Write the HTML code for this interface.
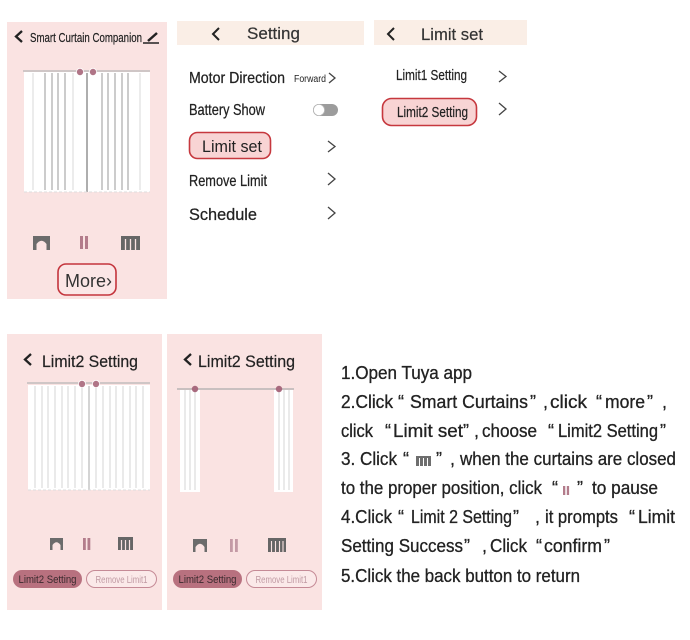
<!DOCTYPE html>
<html><head><meta charset="utf-8"><style>
html,body{margin:0;padding:0;background:#fff;}
svg{display:block;}
text{font-family:"Liberation Sans","Noto Sans CJK SC",sans-serif;}
</style></head><body>
<svg width="690" height="640" viewBox="0 0 690 640" xmlns="http://www.w3.org/2000/svg">
<rect width="690" height="640" fill="#fff"/>

<!-- ===== Top-left panel ===== -->
<rect x="7" y="22" width="160" height="277" fill="#fae3e2"/>
<polyline points="22,31 16,36.5 22,42" fill="none" stroke="#222" stroke-width="2.3"/>
<text x="30" y="42" font-size="13" textLength="112" lengthAdjust="spacingAndGlyphs" fill="#222" stroke="#222" stroke-width="0.2">Smart Curtain Companion</text>
<line x1="148" y1="41" x2="157" y2="33" stroke="#222" stroke-width="2.5"/>
<line x1="143" y1="43" x2="159" y2="43" stroke="#222" stroke-width="1.5"/>
<!-- curtain -->
<rect x="24" y="72" width="126" height="120" fill="#fff"/>
<g stroke="#9a9a9a" stroke-width="1">
<line x1="45" y1="73" x2="45" y2="190"/><line x1="52" y1="73" x2="52" y2="190"/><line x1="58" y1="73" x2="58" y2="190"/><line x1="65" y1="73" x2="65" y2="190"/>
<line x1="102" y1="73" x2="102" y2="190"/><line x1="108" y1="73" x2="108" y2="190"/><line x1="115" y1="73" x2="115" y2="190"/><line x1="122" y1="73" x2="122" y2="190"/><line x1="128" y1="73" x2="128" y2="190"/>
</g>
<g stroke="#d8d8d8" stroke-width="1">
<line x1="33" y1="73" x2="33" y2="190"/><line x1="73" y1="73" x2="73" y2="190"/><line x1="140" y1="73" x2="140" y2="190"/>
</g>
<line x1="87" y1="73" x2="87" y2="192" stroke="#777" stroke-width="1.2"/>
<line x1="24" y1="192" x2="150" y2="192" stroke="#ddd" stroke-width="1" stroke-dasharray="3,2"/>
<line x1="23" y1="71" x2="150" y2="71" stroke="#cfc6c6" stroke-width="2"/>
<circle cx="80" cy="72" r="3.6" fill="#b07587" stroke="#fff" stroke-width="0.8"/>
<circle cx="93" cy="72" r="3.6" fill="#b07587" stroke="#fff" stroke-width="0.8"/>
<!-- icons -->
<rect x="33" y="236" width="17" height="14" fill="#6b6b6b"/>
<path d="M36.5 250 V244 Q41.5 237.5 46.5 244 V250 Z" fill="#fae3e2"/>
<rect x="80" y="236" width="3" height="13" fill="#b37c8b"/>
<rect x="85" y="236" width="3" height="13" fill="#b37c8b"/>
<rect x="121" y="236" width="19" height="14" fill="#666"/>
<g stroke="#fae3e2" stroke-width="1.3"><line x1="125.5" y1="239" x2="125.5" y2="250"/><line x1="130.5" y1="239" x2="130.5" y2="250"/><line x1="135.5" y1="239" x2="135.5" y2="250"/></g>
<!-- More button -->
<rect x="58" y="264" width="58" height="31" rx="8" fill="#fbe6e6" stroke="#c4343c" stroke-width="1.6"/>
<text x="65" y="287" font-size="18" textLength="47" lengthAdjust="spacingAndGlyphs" fill="#333">More›</text>

<!-- ===== Setting panel ===== -->
<rect x="177" y="21" width="187" height="24" fill="#faeee6"/>
<polyline points="219,28 213,34 219,40" fill="none" stroke="#222" stroke-width="2"/>
<text x="247" y="39" font-size="17" textLength="53" lengthAdjust="spacingAndGlyphs" fill="#333" stroke="#333" stroke-width="0.2">Setting</text>

<g fill="#222" stroke="#222" stroke-width="0.25">
<text x="189" y="83" font-size="16" textLength="96" lengthAdjust="spacingAndGlyphs">Motor Direction</text>
<text x="189" y="115" font-size="16" textLength="76" lengthAdjust="spacingAndGlyphs">Battery Show</text>
<text x="202" y="152" font-size="17" textLength="60" lengthAdjust="spacingAndGlyphs">Limit set</text>
<text x="189" y="186" font-size="16" textLength="78" lengthAdjust="spacingAndGlyphs">Remove Limit</text>
<text x="189" y="220" font-size="17" textLength="68" lengthAdjust="spacingAndGlyphs">Schedule</text>
</g>
<text x="294" y="82" font-size="10" textLength="32" lengthAdjust="spacingAndGlyphs" fill="#222">Forward</text>
<polyline points="329,73 335,78 329,83" fill="none" stroke="#444" stroke-width="1.3"/>

<rect x="313" y="104" width="25" height="12" rx="6" fill="#9c9c9c"/>
<circle cx="319" cy="110" r="5.6" fill="#fff" stroke="#b5b5b5" stroke-width="0.8"/>

<rect x="189.5" y="132.5" width="81" height="26" rx="8" fill="#f8d4d4" stroke="#c6383e" stroke-width="1.6"/>
<text x="202" y="152" font-size="17" textLength="60" lengthAdjust="spacingAndGlyphs" fill="#222">Limit set</text>
<polyline points="328,141 335,146.5 328,152" fill="none" stroke="#444" stroke-width="1.3"/>

<polyline points="328,173 335,179 328,185" fill="none" stroke="#444" stroke-width="1.3"/>
<polyline points="328,207 335,213 328,219" fill="none" stroke="#444" stroke-width="1.3"/>

<!-- ===== Limit set panel ===== -->
<rect x="374" y="20" width="153" height="25" fill="#faeee6"/>
<polyline points="394,28 388,34 394,40" fill="none" stroke="#222" stroke-width="2"/>
<text x="421" y="40" font-size="17" textLength="62" lengthAdjust="spacingAndGlyphs" fill="#333" stroke="#333" stroke-width="0.2">Limit set</text>

<text x="396" y="80" font-size="15" textLength="71" lengthAdjust="spacingAndGlyphs" fill="#222" stroke="#222" stroke-width="0.2">Limit1 Setting</text>
<polyline points="499,71 506,76.5 499,82" fill="none" stroke="#444" stroke-width="1.3"/>
<rect x="382.5" y="98.5" width="94" height="27" rx="9" fill="#f8d4d4" stroke="#c6383e" stroke-width="1.6"/>
<text x="397" y="117" font-size="15" textLength="71" lengthAdjust="spacingAndGlyphs" fill="#222" stroke="#222" stroke-width="0.2">Limit2 Setting</text>
<polyline points="499,103 506,109 499,115" fill="none" stroke="#444" stroke-width="1.3"/>

<!-- ===== Bottom-left panel ===== -->
<rect x="7" y="334" width="155" height="276" fill="#fae3e2"/>
<polyline points="31,354 25,359.5 31,365" fill="none" stroke="#222" stroke-width="2.3"/>
<text x="42" y="367" font-size="17" textLength="96" lengthAdjust="spacingAndGlyphs" fill="#222" stroke="#222" stroke-width="0.2">Limit2 Setting</text>
<rect x="28" y="385" width="122" height="105" fill="#fff"/>
<g stroke="#d6d6d6" stroke-width="1">
<line x1="35" y1="386" x2="35" y2="488"/><line x1="42" y1="386" x2="42" y2="488"/><line x1="48" y1="386" x2="48" y2="488"/><line x1="55" y1="386" x2="55" y2="488"/><line x1="62" y1="386" x2="62" y2="488"/><line x1="68" y1="386" x2="68" y2="488"/><line x1="75" y1="386" x2="75" y2="488"/><line x1="82" y1="386" x2="82" y2="488"/>
<line x1="96" y1="386" x2="96" y2="488"/><line x1="103" y1="386" x2="103" y2="488"/><line x1="110" y1="386" x2="110" y2="488"/><line x1="116" y1="386" x2="116" y2="488"/><line x1="123" y1="386" x2="123" y2="488"/><line x1="130" y1="386" x2="130" y2="488"/><line x1="136" y1="386" x2="136" y2="488"/><line x1="143" y1="386" x2="143" y2="488"/>
</g>
<line x1="89" y1="386" x2="89" y2="490" stroke="#aaa" stroke-width="1"/>
<line x1="28" y1="490" x2="150" y2="490" stroke="#ddd" stroke-width="1" stroke-dasharray="3,2"/>
<line x1="27" y1="383" x2="150" y2="383" stroke="#cfc6c6" stroke-width="2"/>
<circle cx="82" cy="384" r="3.6" fill="#b07587" stroke="#fff" stroke-width="0.8"/>
<circle cx="96" cy="384" r="3.6" fill="#b07587" stroke="#fff" stroke-width="0.8"/>
<!-- icons -->
<rect x="50" y="538" width="13" height="12" fill="#6b6b6b"/>
<path d="M52.5 550 V545 Q56.5 539.5 60.5 545 V550 Z" fill="#fae3e2"/>
<rect x="83" y="538" width="2.8" height="12" fill="#b37c8b"/>
<rect x="87.5" y="538" width="2.8" height="12" fill="#b37c8b"/>
<rect x="118" y="537" width="15" height="13" fill="#666"/>
<g stroke="#fae3e2" stroke-width="1.2"><line x1="121.5" y1="540" x2="121.5" y2="550"/><line x1="125.5" y1="540" x2="125.5" y2="550"/><line x1="129.5" y1="540" x2="129.5" y2="550"/></g>
<!-- buttons -->
<rect x="13" y="570" width="69" height="18" rx="9" fill="#b8717f"/>
<text x="47.5" y="583" font-size="11" text-anchor="middle" textLength="58" lengthAdjust="spacingAndGlyphs" fill="#3a2a2e">Limit2 Setting</text>
<rect x="86.5" y="570.5" width="70" height="17" rx="8.5" fill="#fbe9e9" stroke="#c58a96" stroke-width="1"/>
<text x="121.5" y="583" font-size="10" text-anchor="middle" textLength="52" lengthAdjust="spacingAndGlyphs" fill="#c09aa3">Remove Limit1</text>

<!-- ===== Bottom-middle panel ===== -->
<rect x="167" y="334" width="155" height="276" fill="#fae3e2"/>
<polyline points="191,354 185,359.5 191,365" fill="none" stroke="#222" stroke-width="2.3"/>
<text x="198" y="367" font-size="17" textLength="97" lengthAdjust="spacingAndGlyphs" fill="#222" stroke="#222" stroke-width="0.2">Limit2 Setting</text>
<rect x="180" y="389" width="20" height="103" fill="#fff"/>
<rect x="274" y="389" width="19" height="103" fill="#fff"/>
<g stroke="#d6d6d6" stroke-width="1">
<line x1="185" y1="390" x2="185" y2="490"/><line x1="190" y1="390" x2="190" y2="490"/><line x1="195" y1="390" x2="195" y2="490"/>
<line x1="279" y1="390" x2="279" y2="490"/><line x1="284" y1="390" x2="284" y2="490"/><line x1="289" y1="390" x2="289" y2="490"/>
</g>
<line x1="177" y1="389" x2="294" y2="389" stroke="#c9c0c0" stroke-width="2"/>
<circle cx="195" cy="389" r="3.2" fill="#a86a7e"/>
<circle cx="279" cy="389" r="3.2" fill="#a86a7e"/>
<!-- icons -->
<rect x="193" y="539" width="14" height="13" fill="#6b6b6b"/>
<path d="M195.5 552 V547 Q200 540.5 204.5 547 V552 Z" fill="#fae3e2"/>
<rect x="230" y="539" width="2.8" height="13" fill="#c49aa5"/>
<rect x="235" y="539" width="2.8" height="13" fill="#c49aa5"/>
<rect x="268" y="538" width="18" height="14" fill="#666"/>
<g stroke="#fae3e2" stroke-width="1.1"><line x1="271.5" y1="541" x2="271.5" y2="552"/><line x1="275.5" y1="541" x2="275.5" y2="552"/><line x1="279.5" y1="541" x2="279.5" y2="552"/><line x1="283" y1="541" x2="283" y2="552"/></g>
<!-- buttons -->
<rect x="173" y="570" width="69" height="18" rx="9" fill="#b8717f"/>
<text x="207.5" y="583" font-size="11" text-anchor="middle" textLength="58" lengthAdjust="spacingAndGlyphs" fill="#3a2a2e">Limit2 Setting</text>
<rect x="246.5" y="570.5" width="70" height="17" rx="8.5" fill="#fbe9e9" stroke="#c58a96" stroke-width="1"/>
<text x="281.5" y="583" font-size="10" text-anchor="middle" textLength="52" lengthAdjust="spacingAndGlyphs" fill="#c09aa3">Remove Limit1</text>

<!-- ===== Instructions ===== -->
<g font-size="18" fill="#222" stroke="#222" stroke-width="0.3">
<text x="341" y="379" textLength="131" lengthAdjust="spacingAndGlyphs">1.Open Tuya app</text>

<text x="341" y="408" textLength="52" lengthAdjust="spacingAndGlyphs">2.Click</text>
<text x="398" y="408">“</text>
<text x="410" y="408" textLength="118" lengthAdjust="spacingAndGlyphs">Smart Curtains</text>
<text x="530" y="408">”</text>
<text x="543" y="408">,</text>
<text x="550" y="408" textLength="37" lengthAdjust="spacingAndGlyphs">click</text>
<text x="596" y="408">“</text>
<text x="605" y="408" textLength="40" lengthAdjust="spacingAndGlyphs">more</text>
<text x="647" y="408">”</text>
<text x="662" y="408">,</text>

<text x="341" y="437" textLength="32" lengthAdjust="spacingAndGlyphs">click</text>
<text x="385" y="437">“</text>
<text x="393" y="437" textLength="70" lengthAdjust="spacingAndGlyphs">Limit set</text>
<text x="463" y="437">”</text>
<text x="474" y="437">,</text>
<text x="482" y="437" textLength="55" lengthAdjust="spacingAndGlyphs">choose</text>
<text x="548" y="437">“</text>
<text x="558" y="437" textLength="100" lengthAdjust="spacingAndGlyphs">Limit2 Setting</text>
<text x="660" y="437">”</text>

<text x="341" y="465" textLength="56" lengthAdjust="spacingAndGlyphs">3. Click</text>
<text x="403" y="465">“</text>
<text x="436" y="465">”</text>
<text x="450" y="465">,</text>
<text x="460" y="465" textLength="216" lengthAdjust="spacingAndGlyphs">when the curtains are closed</text>

<text x="341" y="494" textLength="201" lengthAdjust="spacingAndGlyphs">to the proper position, click</text>
<text x="552" y="494">“</text>
<text x="577" y="494">”</text>
<text x="592" y="494" textLength="66" lengthAdjust="spacingAndGlyphs">to pause</text>

<text x="341" y="523" textLength="51" lengthAdjust="spacingAndGlyphs">4.Click</text>
<text x="398" y="523">“</text>
<text x="411" y="523" textLength="101" lengthAdjust="spacingAndGlyphs">Limit 2 Setting</text>
<text x="513" y="523">”</text>
<text x="535" y="523">,</text>
<text x="545" y="523" textLength="73" lengthAdjust="spacingAndGlyphs">it prompts</text>
<text x="629" y="523">“</text>
<text x="638" y="523" textLength="37" lengthAdjust="spacingAndGlyphs">Limit</text>

<text x="341" y="552" textLength="122" lengthAdjust="spacingAndGlyphs">Setting Success</text>
<text x="464" y="552">”</text>
<text x="482" y="552">,</text>
<text x="490" y="552" textLength="37" lengthAdjust="spacingAndGlyphs">Click</text>
<text x="536" y="552">“</text>
<text x="544" y="552" textLength="58" lengthAdjust="spacingAndGlyphs">confirm</text>
<text x="604" y="552">”</text>

<text x="341" y="582" textLength="239" lengthAdjust="spacingAndGlyphs">5.Click the back button to return</text>
</g>
<!-- inline icons in text -->
<rect x="416" y="456" width="15" height="10" fill="#6e6e6e"/>
<g stroke="#fff" stroke-width="1"><line x1="419.5" y1="458" x2="419.5" y2="466"/><line x1="423.5" y1="458" x2="423.5" y2="466"/><line x1="427.5" y1="458" x2="427.5" y2="466"/></g>
<rect x="563" y="486" width="2.3" height="9" fill="#b37c8b"/>
<rect x="566.8" y="486" width="2.3" height="9" fill="#b37c8b"/>
</svg>
</body></html>
